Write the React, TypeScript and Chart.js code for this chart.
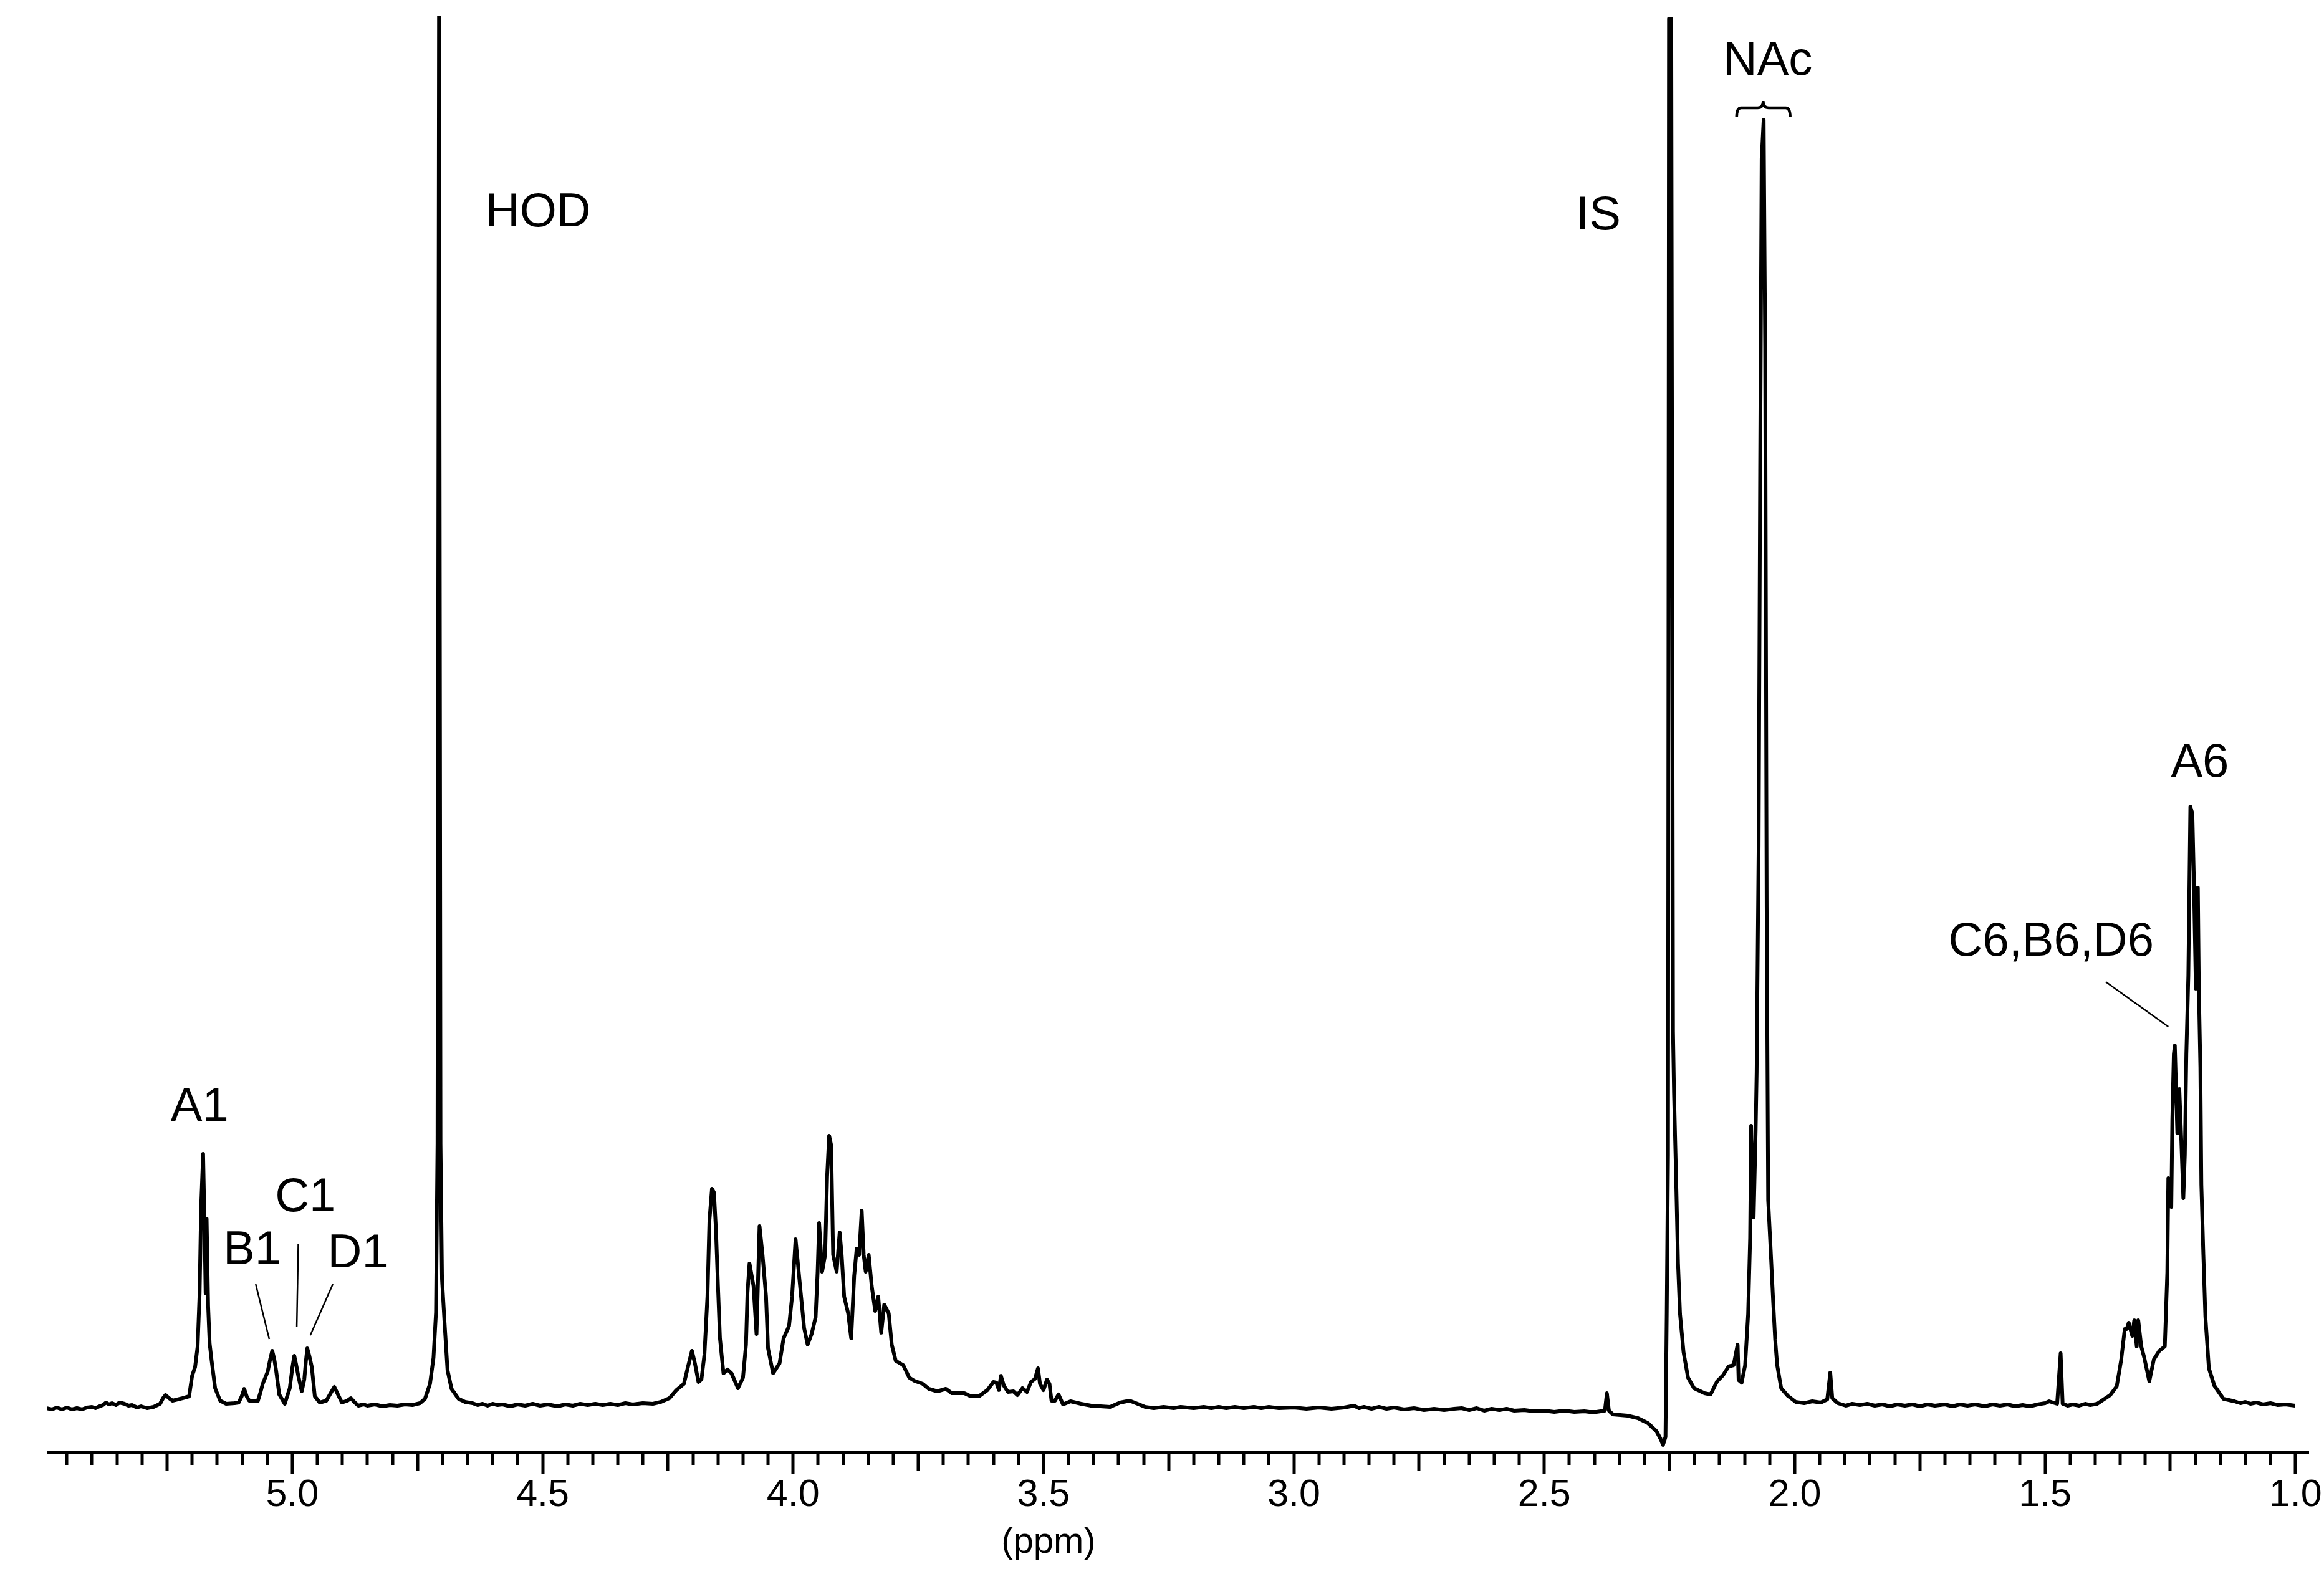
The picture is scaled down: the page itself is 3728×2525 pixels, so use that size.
import { useEffect, useRef } from "react";
import { Chart, registerables } from "chart.js";

Chart.register(...registerables);

// ---- axis range (ppm, reversed) and intensity range ----
const X_LEFT = 5.489;
const X_RIGHT = 0.973;
const Y_MIN = -75;
const Y_MAX = 2230;

// ---- spectrum: [ppm, intensity] ----
const ANOMERIC: [number, number][] = [
  [5.491, -4], [5.48, -6], [5.47, -3], [5.46, -6], [5.45, -3], [5.44, -6], [5.43, -4],
  [5.42, -6], [5.41, -3], [5.4, -2], [5.393, -4], [5.385, -1], [5.378, 1], [5.372, 5],
  [5.366, 2], [5.36, 4], [5.352, 1], [5.345, 5], [5.335, 3], [5.327, 0], [5.32, 1],
  [5.31, -3], [5.302, -1], [5.29, -4], [5.277, -2], [5.264, 3], [5.258, 12], [5.253, 17],
  [5.246, 12], [5.239, 8], [5.229, 10], [5.219, 12], [5.206, 15], [5.2, 48], [5.194, 62],
  [5.189, 95], [5.185, 180], [5.182, 320], [5.178, 404], [5.175, 280], [5.173, 180],
  [5.171, 300], [5.168, 160], [5.165, 100], [5.161, 72], [5.154, 28], [5.144, 8],
  [5.132, 3], [5.115, 4], [5.107, 5], [5.101, 15], [5.096, 27], [5.091, 15], [5.086, 8],
  [5.069, 7], [5.064, 20], [5.059, 35], [5.049, 55], [5.044, 75], [5.04, 88], [5.036, 75],
  [5.032, 55], [5.026, 18], [5.015, 3], [5.005, 28], [5.0, 60], [4.996, 80], [4.992, 65],
  [4.988, 48], [4.981, 23], [4.976, 42], [4.973, 70], [4.97, 92], [4.966, 80], [4.961, 62],
  [4.955, 15], [4.945, 5], [4.932, 8], [4.922, 22], [4.916, 30], [4.91, 20], [4.901, 5],
  [4.89, 8], [4.883, 12], [4.875, 5], [4.868, 0], [4.858, 2], [4.85, 0], [4.835, 2],
  [4.82, -1], [4.805, 1], [4.79, 0], [4.775, 2], [4.76, 1], [4.745, 4],
];

const HOD_PEAK: [number, number][] = [
  [4.735, 11], [4.725, 35], [4.718, 77], [4.713, 150], [4.71, 420], [4.707, 2230],
  [4.704, 420], [4.701, 203], [4.696, 134], [4.69, 57], [4.682, 27], [4.668, 11],
  [4.655, 6], [4.64, 4], [4.63, 1], [4.62, 3], [4.61, 0], [4.6, 3], [4.59, 1], [4.58, 2],
  [4.565, -1], [4.55, 2], [4.535, 0], [4.52, 3], [4.505, 0], [4.49, 2], [4.47, -1],
  [4.455, 2], [4.44, 0], [4.425, 3], [4.41, 1], [4.395, 3], [4.38, 1], [4.365, 3],
  [4.35, 1], [4.335, 4], [4.32, 2], [4.3, 4], [4.28, 3], [4.264, 6],
];

const RING: [number, number][] = [
  [4.247, 12], [4.233, 25], [4.218, 35], [4.21, 62], [4.202, 88], [4.196, 68], [4.189, 38],
  [4.183, 42], [4.177, 82], [4.171, 175], [4.167, 298], [4.162, 348], [4.158, 342],
  [4.154, 282], [4.15, 192], [4.146, 108], [4.139, 52], [4.131, 58], [4.123, 52],
  [4.11, 28], [4.1, 45], [4.094, 98], [4.091, 182], [4.087, 228], [4.083, 210],
  [4.079, 192], [4.073, 115], [4.067, 288], [4.061, 242], [4.054, 175], [4.05, 92],
  [4.04, 52], [4.027, 68], [4.019, 108], [4.008, 128], [4.002, 175], [3.995, 267],
  [3.99, 225], [3.984, 175], [3.978, 125], [3.971, 98], [3.963, 115], [3.955, 142],
  [3.951, 215], [3.948, 293], [3.942, 215], [3.936, 242], [3.932, 368], [3.928, 433],
  [3.924, 418], [3.92, 242], [3.913, 215], [3.907, 278], [3.903, 242], [3.898, 175],
  [3.89, 148], [3.884, 108], [3.878, 208], [3.873, 252], [3.868, 242], [3.863, 313],
  [3.859, 242], [3.855, 215], [3.849, 242], [3.843, 192], [3.836, 152], [3.83, 175],
  [3.824, 117], [3.818, 162], [3.809, 148], [3.803, 98], [3.795, 72], [3.78, 65],
  [3.768, 45],
];

const MIDFIELD: [number, number][] = [
  [3.758, 40], [3.741, 35], [3.729, 27], [3.712, 23], [3.695, 27], [3.683, 20],
  [3.658, 20], [3.645, 15], [3.629, 15], [3.612, 25], [3.6, 38], [3.594, 37], [3.589, 25],
  [3.585, 48], [3.579, 32], [3.571, 22], [3.56, 23], [3.552, 17], [3.542, 28], [3.533, 22],
  [3.525, 38], [3.517, 43], [3.511, 60], [3.507, 35], [3.5, 25], [3.493, 42], [3.488, 35],
  [3.484, 8], [3.477, 8], [3.47, 18], [3.461, 2], [3.446, 7], [3.425, 3], [3.405, 0],
  [3.367, -2], [3.347, 5], [3.328, 8], [3.309, 2], [3.297, -2], [3.28, -4], [3.26, -2],
  [3.24, -4], [3.226, -2], [3.2, -4], [3.18, -2], [3.165, -4], [3.15, -2], [3.135, -4],
  [3.118, -2], [3.1, -4], [3.08, -2], [3.065, -4], [3.05, -2], [3.03, -4], [3.0, -3],
  [2.975, -5], [2.95, -3], [2.925, -5], [2.9, -3], [2.88, 0], [2.87, -4], [2.86, -2],
  [2.845, -5], [2.83, -2], [2.815, -5], [2.8, -3], [2.78, -6], [2.76, -4], [2.74, -7],
  [2.72, -5], [2.7, -7], [2.68, -5], [2.665, -4], [2.65, -7], [2.635, -4], [2.62, -8],
  [2.605, -5], [2.59, -7], [2.575, -5], [2.56, -8], [2.54, -7], [2.52, -9], [2.5, -8],
  [2.48, -10], [2.46, -8], [2.44, -10], [2.42, -9], [2.41, -10], [2.396, -10],
  [2.379, -8], [2.375, 20], [2.371, -8], [2.363, -14], [2.334, -16], [2.313, -20],
  [2.293, -28], [2.276, -41], [2.268, -53], [2.263, -63], [2.258, -50],
];

const IS_NAC: [number, number][] = [
  [2.2555, 150], [2.253, 400], [2.251, 2225], [2.2465, 2225], [2.243, 600], [2.241, 502],
  [2.237, 371], [2.233, 228], [2.229, 147], [2.222, 86], [2.213, 45], [2.201, 28],
  [2.18, 20], [2.168, 18], [2.155, 39], [2.143, 49], [2.132, 63], [2.122, 65], [2.114, 98],
  [2.112, 41], [2.106, 37], [2.099, 65], [2.093, 147], [2.089, 269], [2.087, 449],
  [2.082, 302], [2.078, 441], [2.076, 535], [2.072, 900], [2.069, 1500], [2.066, 2000],
  [2.062, 2063], [2.059, 1700], [2.056, 800], [2.053, 330], [2.048, 250], [2.043, 167],
  [2.039, 106], [2.035, 65], [2.027, 28], [2.014, 16], [1.998, 6], [1.981, 4], [1.965, 7],
  [1.948, 5], [1.935, 10], [1.929, 53], [1.925, 12], [1.914, 4], [1.898, 0],
];

const METHYL: [number, number][] = [
  [1.885, 3], [1.87, 1], [1.855, 3], [1.84, 0], [1.825, 2], [1.81, -1], [1.795, 2],
  [1.78, 0], [1.765, 2], [1.75, -1], [1.735, 2], [1.72, 0], [1.7, 2], [1.685, -1],
  [1.67, 2], [1.655, 0], [1.64, 2], [1.62, -1], [1.605, 2], [1.59, 0], [1.575, 2],
  [1.56, -1], [1.545, 1], [1.53, -1], [1.515, 2], [1.5, 4], [1.492, 7], [1.476, 3],
  [1.469, 84], [1.465, 3], [1.455, 0], [1.445, 2], [1.432, 0], [1.42, 3], [1.41, 1],
  [1.396, 3], [1.37, 17], [1.357, 31], [1.348, 74], [1.341, 123], [1.337, 123],
  [1.333, 133], [1.326, 112], [1.322, 137], [1.317, 95], [1.314, 137], [1.308, 95],
  [1.302, 77], [1.292, 39], [1.283, 74], [1.272, 88], [1.261, 95], [1.256, 214],
  [1.254, 365], [1.248, 319], [1.246, 459], [1.243, 564], [1.241, 578], [1.236, 437],
  [1.232, 508], [1.228, 424], [1.224, 333], [1.221, 403], [1.218, 564], [1.214, 690],
  [1.21, 961], [1.206, 950], [1.203, 845], [1.199, 669], [1.195, 831], [1.193, 669],
  [1.19, 543], [1.188, 354], [1.184, 242], [1.18, 143], [1.173, 60], [1.162, 32],
  [1.144, 11], [1.122, 7], [1.11, 4], [1.1, 6], [1.09, 3], [1.078, 5], [1.065, 2],
  [1.05, 4], [1.035, 1], [1.02, 2], [1.001, 0],
];

// ---- axis ticks ----
const MAJOR_TICKS = [5.0, 4.5, 4.0, 3.5, 3.0, 2.5, 2.0, 1.5, 1.0];
const MINOR_TICK_STEP = 0.05;
const AXIS_TITLE = "(ppm)";
const AXIS_TITLE_PPM = 3.49;

// ---- annotations: text, ppm of centre, intensity of baseline ----
const LABEL_TEXTS = ["A1", "B1", "C1", "D1", "HOD", "IS", "NAc", "C6,B6,D6", "A6"];
const LABEL_PPM = [5.185, 5.08, 4.974, 4.869, 4.509, 2.392, 2.054, 1.488, 1.191];
const LABEL_INT = [457, 227, 312, 222, 1892, 1887, 2135, 722, 1009];

// leader lines: [ppm1, int1, ppm2, int2]
const LEADERS: [number, number, number, number][] = [
  [5.073, 195, 5.046, 107],
  [4.988, 260, 4.991, 126],
  [4.919, 195, 4.964, 113],
  [1.379, 680, 1.254, 608],
];

// NAc brace: left, left bar start, tip, right bar end, right (ppm); end / bar / tip intensities
const BRACE_PPM = [2.116, 2.107, 2.063, 2.018, 2.009];
const BRACE_INT = [2067, 2082, 2093];

const FONT = "'Liberation Sans', Arial, Helvetica, sans-serif";

const annotationPlugin = {
  id: "nmrAnnotations",
  afterDraw(chart: any) {
    const { ctx, chartArea } = chart;
    const xs = chart.scales.x;
    const ys = chart.scales.y;
    const X = (v: number) => xs.getPixelForValue(v);
    const Y = (v: number) => ys.getPixelForValue(v);
    ctx.save();
    ctx.strokeStyle = "#000";
    ctx.fillStyle = "#000";

    // axis line
    const axisY = chartArea.bottom;
    ctx.lineWidth = 5;
    ctx.beginPath();
    ctx.moveTo(chartArea.left, axisY);
    ctx.lineTo(chartArea.right, axisY);
    ctx.stroke();

    // ticks
    ctx.lineWidth = 5;
    const lo = Math.ceil(X_RIGHT / MINOR_TICK_STEP - 1e-6);
    const hi = Math.floor(X_LEFT / MINOR_TICK_STEP + 1e-6);
    for (let i = lo; i <= hi; i++) {
      const v = i * MINOR_TICK_STEP;
      const px = Math.round(X(v));
      let len = 18;
      if (i % 10 === 0) len = 33;
      else if (i % 5 === 0) len = 28;
      ctx.beginPath();
      ctx.moveTo(px, axisY + 2);
      ctx.lineTo(px, axisY + 2 + len);
      ctx.stroke();
    }

    // axis title
    ctx.font = `58px ${FONT}`;
    ctx.textAlign = "center";
    ctx.textBaseline = "alphabetic";
    ctx.fillText(AXIS_TITLE, X(AXIS_TITLE_PPM), axisY + 161);

    // labels
    ctx.font = `76px ${FONT}`;
    LABEL_TEXTS.forEach((t, i) => {
      ctx.fillText(t, X(LABEL_PPM[i]), Y(LABEL_INT[i]));
    });

    // leader lines
    ctx.lineWidth = 2.5;
    LEADERS.forEach(([p1, i1, p2, i2]) => {
      ctx.beginPath();
      ctx.moveTo(X(p1), Y(i1));
      ctx.lineTo(X(p2), Y(i2));
      ctx.stroke();
    });

    // brace
    const [bl, bl2, bt, br2, br] = BRACE_PPM.map(X);
    const [yEnd, yBar, yTip] = BRACE_INT.map(Y);
    ctx.lineWidth = 4.5;
    ctx.beginPath();
    ctx.moveTo(bl, yEnd);
    ctx.quadraticCurveTo(bl, yBar, bl2, yBar);
    ctx.lineTo(bt - 9, yBar);
    ctx.quadraticCurveTo(bt, yBar, bt, yTip);
    ctx.quadraticCurveTo(bt, yBar, bt + 9, yBar);
    ctx.lineTo(br2, yBar);
    ctx.quadraticCurveTo(br, yBar, br, yEnd);
    ctx.stroke();

    ctx.restore();
  },
};

export default function App() {
  const ref = useRef<HTMLCanvasElement | null>(null);

  useEffect(() => {
    if (!ref.current) return;
    const points = [...ANOMERIC, ...HOD_PEAK, ...RING, ...MIDFIELD, ...IS_NAC, ...METHYL].map(
      ([x, y]) => ({ x, y })
    );
    const chart = new Chart(ref.current, {
      type: "line",
      data: {
        datasets: [
          {
            data: points,
            borderColor: "#000",
            borderWidth: 6,
            pointRadius: 0,
            tension: 0,
            fill: false,
            borderJoinStyle: "round",
          } as any,
        ],
      },
      options: {
        animation: false,
        responsive: false,
        devicePixelRatio: 1,
        parsing: false,
        events: [],
        layout: { padding: { left: 76, right: 24, top: 25, bottom: 0 } },
        plugins: { legend: { display: false }, tooltip: { enabled: false }, title: { display: false } },
        scales: {
          x: {
            type: "linear",
            reverse: true,
            min: X_RIGHT,
            max: X_LEFT,
            afterBuildTicks: (s: any) => {
              s.ticks = MAJOR_TICKS.map((v) => ({ value: v }));
            },
            afterFit: (s: any) => {
              s.height = 195;
              s.paddingLeft = 0;
              s.paddingRight = 0;
            },
            grid: { display: false, drawTicks: false },
            border: { display: false },
            ticks: {
              padding: 33,
              color: "#000",
              autoSkip: false,
              maxRotation: 0,
              font: { family: FONT, size: 61 },
              callback: (v: any) => Number(v).toFixed(1),
            },
          },
          y: { display: false, min: Y_MIN, max: Y_MAX },
        },
      } as any,
      plugins: [annotationPlugin],
    });
    return () => chart.destroy();
  }, []);

  return (
    <div style={{ position: "fixed", left: 0, top: 0, width: 3728, height: 2525, background: "#fff" }}>
      <canvas ref={ref} width={3728} height={2525} style={{ display: "block", width: 3728, height: 2525 }} />
    </div>
  );
}
